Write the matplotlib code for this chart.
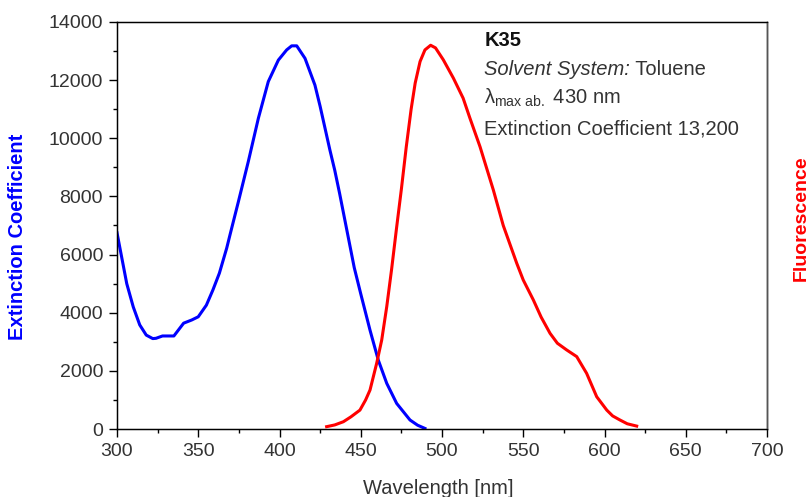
import matplotlib
matplotlib.use('Agg')
import matplotlib.pyplot as plt
from matplotlib.ticker import MultipleLocator

plt.rcParams['font.family'] = ['Liberation Sans', 'DejaVu Sans']
plt.rcParams['mathtext.fontset'] = 'custom'
plt.rcParams['mathtext.rm'] = 'Liberation Sans'
plt.rcParams['mathtext.it'] = 'Liberation Sans:italic'

# absorption spectrum (extinction coefficient)
abs_nm = [300, 306, 310, 314, 318, 322, 324, 328, 335, 341, 346, 350, 355, 359,
          363, 367.5, 369.5, 374.7, 380.8, 387, 393.1, 399.3, 404.4, 407.5,
          410.6, 415.7, 421.8, 425, 428, 431, 434, 437, 440, 443, 446, 450,
          455.7, 460.8, 466, 472.1, 480.3, 485, 489.5]
abs_eps = [6750, 5000, 4200, 3580, 3230, 3110, 3120, 3200, 3200, 3640, 3750, 3860,
           4260, 4780, 5360, 6220, 6670, 7820, 9200, 10690, 11950, 12690, 13040,
           13180, 13180, 12750, 11830, 11100, 10350, 9600, 8900, 8100, 7250,
           6400, 5550, 4650, 3400, 2370, 1570, 880, 310, 130, 20]

# emission spectrum (fluorescence, arbitrary units)
em_nm = [429, 434, 439.3, 444, 449.5, 453, 455.7, 459.8, 462.9, 466, 469, 472,
         475, 478, 481, 483.5, 486.5, 489.5, 493, 496, 500.8, 507, 513, 517.2,
         523.4, 531.6, 537.7, 546, 550, 556.2, 561, 566.5, 571, 576.7, 582.9,
         589, 595.2, 601.4, 605, 609.5, 614, 619.8]
em_int = [80, 140, 250, 420, 650, 1000, 1340, 2260, 3060, 4210, 5500, 6900,
          8250, 9700, 11000, 11900, 12640, 13040, 13200, 13110, 12700, 12070,
          11380, 10690, 9710, 8220, 7000, 5700, 5125, 4440, 3850, 3290, 2950,
          2720, 2490, 1915, 1110, 650, 450, 310, 180, 100]

info_title = 'K35'
info_solvent = 'Solvent System:'
info_solvent_value = ' Toluene'
info_lambda = r'$\mathrm{λ}_{\mathrm{max\ ab.}}$ 430 nm'
info_eps = 'Extinction Coefficient 13,200'

grey = '#333333'

fig = plt.figure(figsize=(8.11, 4.97), dpi=100)
ax = fig.add_axes([117 / 811, 68 / 497, 650 / 811, 407 / 497])
ax.plot(abs_nm, abs_eps, color='#0000ff', linewidth=2.2)
ax.set_xlim(300, 700)
ax.set_ylim(0, 14000)
ax.xaxis.set_major_locator(MultipleLocator(50))
ax.xaxis.set_minor_locator(MultipleLocator(25))
ax.yaxis.set_major_locator(MultipleLocator(2000))
ax.yaxis.set_minor_locator(MultipleLocator(1000))
ax.tick_params(which='major', length=6, width=1, direction='out', labelsize=14,
               labelcolor=grey, pad=4)
ax.tick_params(which='minor', length=3, width=1, direction='out')
ax.tick_params(top=False, right=False)
for s in ax.spines.values():
    s.set_linewidth(1)

ax.set_xlabel('Wavelength [nm]', fontsize=14.5, color=grey)
ax.xaxis.set_label_coords(0.494, -0.122)
ax.set_ylabel('Extinction Coefficient', fontsize=14.5, fontweight='bold', color='#0000ff')
ax.yaxis.set_label_coords(-0.138, 0.473)

ax2 = ax.twinx()
ax2.plot(em_nm, em_int, color='#ff0000', linewidth=2.2)
ax2.set_ylim(0, 14000)
ax2.set_yticks([])
ax2.set_ylabel('Fluorescence', fontsize=14, fontweight='bold', color='#ff0000')
ax2.yaxis.set_label_coords(1.039, 0.518)
ax2.spines['right'].set_color('#555555')
ax2.spines['right'].set_linewidth(1)

tx = 0.565
fs = 14.5
ax.text(tx, 0.955, info_title, transform=ax.transAxes, fontsize=fs,
        fontweight='bold', color='#111111', va='center')
t = ax.text(tx, 0.884, info_solvent, transform=ax.transAxes, fontsize=fs,
            fontstyle='italic', color=grey, va='center')
ax.annotate(info_solvent_value, xy=(1, 0), xycoords=t, fontsize=fs,
            color=grey, va='bottom', ha='left')
ax.text(tx, 0.814, info_lambda, transform=ax.transAxes, fontsize=fs,
        color=grey, va='center')
ax.text(tx, 0.737, info_eps, transform=ax.transAxes, fontsize=fs,
        color=grey, va='center')

fig.savefig('out.png', dpi=100)
